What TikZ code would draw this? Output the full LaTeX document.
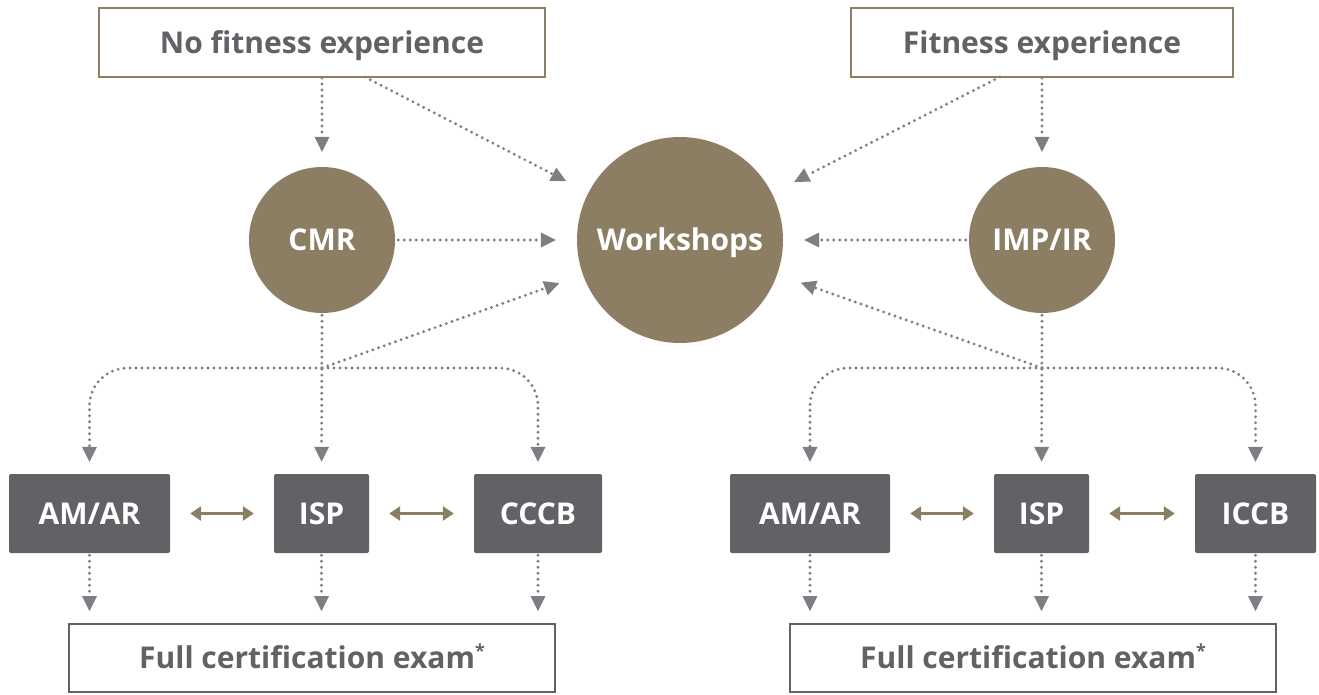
\documentclass[tikz,border=0pt]{standalone}
\usepackage{fontspec}
\setmainfont{Open Sans}
\usetikzlibrary{arrows.meta,calc}
\definecolor{brn}{HTML}{8C7E62}
\definecolor{dkbox}{HTML}{626166}
\definecolor{txtgray}{HTML}{626166}
\definecolor{arrgray}{HTML}{7E7E84}
\newcommand{\astmark}{\raisebox{11pt}{\fontsize{18}{18}\selectfont *}}
\tikzset{
  lbl/.style={font=\fontsize{30}{34}\selectfont\bfseries,text height=21pt,text depth=0pt},
  topbox/.style={lbl,draw=brn,line width=2pt,fill=white,text=txtgray,minimum height=69pt,inner sep=0pt},
  examb/.style={lbl,draw=dkbox,line width=1.8pt,fill=white,text=txtgray,minimum width=486pt,minimum height=68pt,inner sep=0pt},
  bubble/.style={lbl,circle,fill=brn,text=white,inner sep=0pt},
  darkb/.style={lbl,fill=dkbox,rounded corners=2pt,text=white,minimum height=79pt,inner sep=0pt},
  dotline/.style={draw=arrgray,line width=3.2pt,dash pattern=on 0pt off 6pt,line cap=round,-{Triangle[width=15pt,length=15pt,fill=arrgray,line width=0pt,sep=0pt]}},
  dblarr/.style={draw=brn,line width=3pt,{Triangle[width=14pt,length=11pt]}-{Triangle[width=14pt,length=11pt]},shorten <=20pt,shorten >=20pt}
}
\begin{document}
\begin{tikzpicture}[x=1pt,y=-1pt]
\useasboundingbox (0,0) rectangle (1319,694);
% top boxes
\node[topbox,minimum width=446pt] (nf) at (322,42.5) {No fitness experience};
\node[topbox,minimum width=382pt] (fe) at (1042,42.5) {Fitness experience};
% circles
\node[bubble,minimum size=146pt] (cmr) at (322,240) {CMR};
\node[bubble,minimum size=206pt] (ws) at (680,240) {Workshops};
\node[bubble,minimum size=146pt] (imp) at (1042,240) {IMP/IR};
% dark boxes
\node[darkb,minimum width=161pt] (amL) at (89.5,513.5) {AM/AR};
\node[darkb,minimum width=95pt] (ispL) at (321.5,513.5) {ISP};
\node[darkb,minimum width=128pt] (ccL) at (538,513.5) {CCCB};
\node[darkb,minimum width=160pt] (amR) at (810,513.5) {AM/AR};
\node[darkb,minimum width=95pt] (ispR) at (1041.5,513.5) {ISP};
\node[darkb,minimum width=121pt] (icR) at (1255.5,513.5) {ICCB};
% exam boxes
\node[examb] (fcL) at (312,658) {Full certification exam\astmark};
\node[examb] (fcR) at (1033,658) {Full certification exam\astmark};
% junction coordinates
\coordinate (jL) at (322,368);
\coordinate (jR) at (1042,368);
\coordinate (nfd) at (365,77);
\coordinate (fed) at (1000,77);
% top arrows
\draw[dotline,shorten >=15pt] (nf.south) -- (cmr.north);
\draw[dotline,shorten >=15pt] (fe.south) -- (imp.north);
\draw[dotline,shorten >=25pt] (nfd) -- (ws);
\draw[dotline,shorten >=25pt] (fed) -- (ws);
\draw[dotline,shorten <=3pt,shorten >=21pt] (cmr.east) -- (ws.west);
\draw[dotline,shorten <=3pt,shorten >=21pt] (imp.west) -- (ws.east);
% junction branches left
\draw[dotline,shorten <=2pt,shorten >=12pt] (cmr.south) -- (ispL.north);
\draw[dotline,rounded corners=38pt,shorten >=12pt] (jL) -| (amL.north);
\draw[dotline,rounded corners=38pt,shorten >=12pt] (jL) -| (ccL.north);
\draw[dotline,shorten >=25pt] (jL) -- (ws);
% junction branches right
\draw[dotline,shorten <=2pt,shorten >=12pt] (imp.south) -- (ispR.north);
\draw[dotline,rounded corners=38pt,shorten >=12pt] (jR) -| (amR.north);
\draw[dotline,rounded corners=38pt,shorten >=12pt] (jR) -| (icR.north);
\draw[dotline,shorten >=25pt] (jR) -- (ws);
% double arrows
\draw[dblarr] (amL.east) -- (ispL.west);
\draw[dblarr] (ispL.east) -- (ccL.west);
\draw[dblarr] (amR.east) -- (ispR.west);
\draw[dblarr] (ispR.east) -- (icR.west);
% down to exam
\foreach \b/\f in {amL/fcL,ispL/fcL,ccL/fcL,amR/fcR,ispR/fcR,icR/fcR}{
  \draw[dotline,shorten <=2pt,shorten >=12pt] (\b.south) -- (\b.south |- \f.north);
}
\end{tikzpicture}
\end{document}
